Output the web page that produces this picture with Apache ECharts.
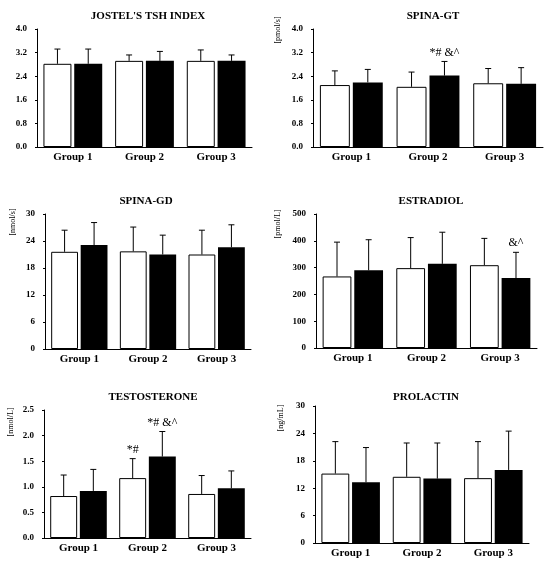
<!DOCTYPE html>
<html>
<head>
<meta charset="utf-8">
<script src="https://cdn.jsdelivr.net/npm/echarts@6/dist/echarts.min.js"></script>
<style>
  html, body { margin: 0; padding: 0; background: #fff; }
  #chart { width: 550px; height: 564px; }
</style>
</head>
<body>
<div id="chart"></div>
<script>
// categories
const groups = ['Group 1', 'Group 2', 'Group 3']

// Jostel's TSH index
const tshWhite = [2.82, 2.92, 2.92]
const tshWhiteSd = [0.50, 0.20, 0.37]
const tshBlack = [2.82, 2.92, 2.92]
const tshBlackSd = [0.50, 0.32, 0.20]

// SPINA-GT [pmol/s]
const gtWhite = [2.10, 2.04, 2.16]
const gtWhiteSd = [0.48, 0.50, 0.50]
const gtBlack = [2.19, 2.42, 2.14]
const gtBlackSd = [0.44, 0.48, 0.55]
const gtBlackNote = ['', '*# &^', '']

// SPINA-GD [nmol/s]
const gdWhite = [21.6, 21.7, 21.0]
const gdWhiteSd = [4.8, 5.4, 5.4]
const gdBlack = [23.1, 21.0, 22.6]
const gdBlackSd = [5.0, 4.3, 5.0]

// Estradiol [pmol/L]
const e2White = [267, 298, 309]
const e2WhiteSd = [128, 114, 100]
const e2Black = [290, 314, 261]
const e2BlackSd = [114, 118, 96]
const e2BlackNote = ['', '', '&^']

// Testosterone [nmol/L]
const tWhite = [0.82, 1.17, 0.86]
const tWhiteSd = [0.41, 0.38, 0.36]
const tBlack = [0.92, 1.59, 0.97]
const tBlackSd = [0.42, 0.49, 0.34]
const tWhiteNote = ['', '*#', '']
const tBlackNote = ['', '*# &^', '']

// Prolactin [ng/mL]
const prlWhite = [15.2, 14.5, 14.2]
const prlWhiteSd = [7.0, 7.4, 8.0]
const prlBlack = [13.3, 14.1, 16.0]
const prlBlackSd = [7.6, 7.8, 8.5]

const FONT = 'Liberation Serif'
const CAT_GAP = 0.18
const BAR_GAP = 0.1

// panels: data + layout
const panels = [
  { title: "JOSTEL'S TSH INDEX", unit: '', grid: [37, 29, 215, 118], titleX: 143, titleY: 6,
    max: 4, interval: 0.8, dec: 1, w: tshWhite, ws: tshWhiteSd, b: tshBlack, bs: tshBlackSd },
  { title: 'SPINA-GT', unit: '[pmol/s]', grid: [313, 29, 230, 118], titleX: 428, titleY: 6, unitX: 278, unitY: 30,
    max: 4, interval: 0.8, dec: 1, w: gtWhite, ws: gtWhiteSd, b: gtBlack, bs: gtBlackSd, bn: gtBlackNote },
  { title: 'SPINA-GD', unit: '[nmol/s]', grid: [45, 214, 206, 135], titleX: 141, titleY: 191, unitX: 13, unitY: 222,
    max: 30, interval: 6, dec: 0, w: gdWhite, ws: gdWhiteSd, b: gdBlack, bs: gdBlackSd },
  { title: 'ESTRADIOL', unit: '[pmol/L]', grid: [316, 214, 221, 134], titleX: 426, titleY: 191, unitX: 278, unitY: 224,
    max: 500, interval: 100, dec: 0, w: e2White, ws: e2WhiteSd, b: e2Black, bs: e2BlackSd, bn: e2BlackNote },
  { title: 'TESTOSTERONE', unit: '[nmol/L]', grid: [44, 410, 207, 128], titleX: 148, titleY: 387, unitX: 11, unitY: 422,
    max: 2.5, interval: 0.5, dec: 1, w: tWhite, ws: tWhiteSd, b: tBlack, bs: tBlackSd, wn: tWhiteNote, bn: tBlackNote },
  { title: 'PROLACTIN', unit: '[ng/mL]', grid: [315, 406, 214, 137], titleX: 421, titleY: 387, unitX: 281, unitY: 418,
    max: 30, interval: 6, dec: 0, w: prlWhite, ws: prlWhiteSd, b: prlBlack, bs: prlBlackSd }
]

// error bar drawn above each bar; side -1 = white bar, +1 = black bar
function errorBars(side, notes) {
  return function (params, api) {
    const i = api.value(0), m = api.value(1), s = api.value(2)
    const band = api.size([1, 0])[0]
    const bw = band * (1 - CAT_GAP) / (2 + BAR_GAP)
    const off = side * bw * (1 + BAR_GAP) / 2
    const base = api.coord([i, m])
    const top = api.coord([i, m + s])
    const x = base[0] + off
    const children = [
      { type: 'line', shape: { x1: x, y1: base[1], x2: x, y2: top[1] }, style: { stroke: '#000', lineWidth: 1 } },
      { type: 'line', shape: { x1: x - 3, y1: top[1], x2: x + 3, y2: top[1] }, style: { stroke: '#000', lineWidth: 1 } }
    ]
    const note = notes ? notes[params.dataIndex] : ''
    if (note) {
      children.push({ type: 'text', x: x, y: top[1] - 3,
        style: { text: note, fill: '#000', font: '12px "' + FONT + '"', align: 'center', verticalAlign: 'bottom' } })
    }
    return { type: 'group', children: children }
  }
}

const grid = [], xAxis = [], yAxis = [], series = [], title = [], graphic = []

panels.forEach((p, k) => {
  grid.push({ left: p.grid[0], top: p.grid[1], width: p.grid[2], height: p.grid[3] })
  title.push({ text: p.title, left: p.titleX, top: p.titleY, textAlign: 'center',
    textStyle: { fontFamily: FONT, fontSize: 11, fontWeight: 'bold', color: '#000' } })
  if (p.unit) {
    graphic.push({ type: 'text', x: p.unitX, y: p.unitY, rotation: Math.PI / 2,
      style: { text: p.unit, fill: '#000', font: '8px "' + FONT + '"', align: 'center', verticalAlign: 'middle' } })
  }
  xAxis.push({ type: 'category', gridIndex: k, data: groups,
    axisLine: { lineStyle: { color: '#000', width: 1 } }, axisTick: { show: false },
    axisLabel: { color: '#000', fontFamily: FONT, fontWeight: 'bold', fontSize: 11, margin: 5 } })
  yAxis.push({ type: 'value', gridIndex: k, min: 0, max: p.max, interval: p.interval,
    splitLine: { show: false },
    axisLine: { show: true, lineStyle: { color: '#000', width: 1 } },
    axisTick: { show: true, length: 2, lineStyle: { color: '#000' } },
    axisLabel: { color: '#000', fontFamily: FONT, fontWeight: 'bold', fontSize: 9, margin: 10,
      formatter: v => v.toFixed(p.dec) } })
  series.push({ type: 'bar', xAxisIndex: k, yAxisIndex: k, data: p.w,
    barCategoryGap: (CAT_GAP * 100) + '%', barGap: (BAR_GAP * 100) + '%',
    itemStyle: { color: '#fff', borderColor: '#000', borderWidth: 1 } })
  series.push({ type: 'bar', xAxisIndex: k, yAxisIndex: k, data: p.b,
    barCategoryGap: (CAT_GAP * 100) + '%', barGap: (BAR_GAP * 100) + '%',
    itemStyle: { color: '#000' } })
  series.push({ type: 'custom', xAxisIndex: k, yAxisIndex: k, z: 5,
    renderItem: errorBars(-1, p.wn), encode: { x: 0, y: 1 },
    data: p.w.map((v, i) => [i, v, p.ws[i]]) })
  series.push({ type: 'custom', xAxisIndex: k, yAxisIndex: k, z: 5,
    renderItem: errorBars(1, p.bn), encode: { x: 0, y: 1 },
    data: p.b.map((v, i) => [i, v, p.bs[i]]) })
})

const chart = echarts.init(document.getElementById('chart'), null, { renderer: 'canvas' })
chart.setOption({
  animation: false,
  backgroundColor: '#fff',
  title, grid, xAxis, yAxis, series, graphic
})
</script>
</body>
</html>
